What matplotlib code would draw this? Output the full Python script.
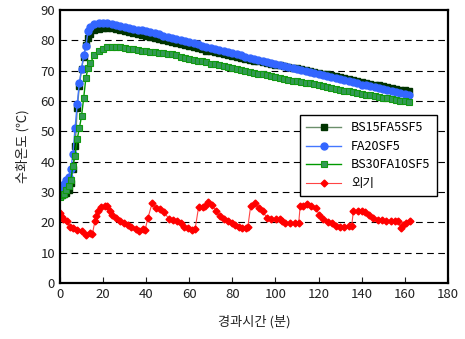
import matplotlib
matplotlib.use('Agg')
import matplotlib.pyplot as plt

plt.rcParams['font.family'] = ['Noto Sans CJK KR', 'DejaVu Sans']

# elapsed time for the three concrete mixes
hours = [0, 1, 2, 3, 4, 5, 6, 7, 8, 9, 10, 11, 12, 13, 14,
         16, 18, 20, 22, 24, 26, 28, 30, 32, 34, 36, 38, 40, 42, 44, 46, 48, 50,
         52, 54, 56, 58, 60, 62, 64, 66, 68, 70, 72, 74, 76, 78, 80, 82, 84, 86,
         88, 90, 92, 94, 96, 98, 100, 102, 104, 106, 108, 110, 112, 114, 116, 118,
         120, 122, 124, 126, 128, 130, 132, 134, 136, 138, 140, 142, 144, 146,
         148, 150, 152, 154, 156, 158, 160, 162]

bs15 = [28.8, 29.0, 29.2, 29.6, 30.5, 33.0, 37.5, 45.0, 57.5, 65.0, 70.5, 74.5, 78.5, 80.8, 82.2,
        83.4, 83.8, 84.0, 84.0, 83.9, 83.6, 83.3, 83.0, 82.7, 82.4, 82.1, 81.8, 81.5, 81.1, 80.7,
        80.3, 79.9, 79.6, 79.3, 79.0, 78.7, 78.3, 78.0, 77.6, 77.3, 77.0, 76.6, 76.3, 76.0, 75.7,
        75.3, 75.0, 74.7, 74.4, 74.1, 73.8, 73.5, 73.2, 73.0, 72.7, 72.4, 72.2, 71.9, 71.7, 71.4,
        71.2, 70.9, 70.7, 70.4, 70.1, 69.9, 69.6, 69.3, 69.0, 68.7, 68.4, 68.1, 67.8, 67.5, 67.2,
        66.9, 66.5, 66.2, 65.9, 65.7, 65.4, 65.2, 64.9, 64.6, 64.3, 64.0, 63.7, 63.5, 63.3]

fa20 = [30.8, 31.0, 32.5, 33.8, 35.0, 37.5, 42.5, 51.0, 59.0, 66.0, 70.5, 75.0, 78.0, 83.0, 84.5,
        85.2, 85.5, 85.6, 85.5, 85.3, 85.0, 84.7, 84.4, 84.1, 83.8, 83.5, 83.2, 82.9, 82.6, 82.3,
        81.9, 81.5, 81.2, 80.8, 80.4, 80.0, 79.7, 79.3, 79.0, 78.6, 78.2, 77.8, 77.5, 77.1, 76.7,
        76.4, 76.0, 75.7, 75.3, 75.0, 74.6, 74.2, 73.9, 73.5, 73.2, 72.8, 72.5, 72.1, 71.8, 71.4,
        71.1, 70.7, 70.4, 70.1, 69.8, 69.5, 69.1, 68.8, 68.4, 68.1, 67.8, 67.4, 67.1, 66.8, 66.4,
        66.1, 65.8, 65.4, 65.1, 64.8, 64.5, 64.2, 63.9, 63.6, 63.3, 63.0, 62.6, 62.3, 62.0]

bs30 = [28.3, 29.0, 29.5, 30.5, 32.0, 34.0, 38.5, 42.0, 47.5, 51.0, 55.0, 61.0, 67.5, 70.8, 72.5,
        75.0, 76.4, 77.2, 77.7, 77.9, 77.9, 77.7, 77.4, 77.2, 77.0, 76.8, 76.6, 76.4, 76.2, 76.0,
        75.9, 75.8, 75.6, 75.3, 75.0, 74.6, 74.2, 73.9, 73.5, 73.2, 73.0, 72.7, 72.3, 72.0, 71.7,
        71.4, 71.1, 70.8, 70.5, 70.2, 69.9, 69.6, 69.3, 69.0, 68.8, 68.5, 68.2, 67.9, 67.6, 67.3,
        67.0, 66.7, 66.4, 66.2, 66.0, 65.8, 65.5, 65.2, 64.9, 64.6, 64.3, 64.0, 63.7, 63.4, 63.1,
        62.8, 62.6, 62.3, 62.0, 61.8, 61.6, 61.3, 61.1, 60.9, 60.6, 60.4, 60.1, 59.9, 59.6]

# outside air temperature
air_hours = [0, 0.8, 1.5, 3.1, 4.6, 6.1, 7.7, 10, 12, 13.8, 15, 16.2, 16.9, 17.7, 19.2, 20.8,
             21.8, 23.1, 24.3, 26.2, 28, 29.5, 31.5, 33.1, 35.1, 36.9, 38.5, 39.5, 40.8, 42.8,
             44.6, 46.4, 48.5, 50.5, 52.3, 54.1, 56, 57.6, 59.5, 61.5, 62.7, 64.3, 66.2, 67.4,
             68.9, 70.7, 72.5, 74.1, 76, 78, 79.8, 81.3, 83.1, 84.6, 86.2, 87.2, 88.5, 90.5,
             92.3, 94.2, 96.1, 98.1, 100.3, 102.3, 103, 104.6, 106.9, 109.2, 110.8, 111.5,
             112.6, 114.6, 116.6, 118.8, 120.3, 122.3, 124.3, 126.1, 128, 130.1, 132, 134.2,
             135.4, 136.2, 138.2, 140, 141.8, 143.4, 145.4, 147.7, 149.5, 151.5, 153.5, 155.4,
             156.9, 158.1, 159.2, 160.8, 162.3]
air = [23.1, 21.8, 21.1, 20.3, 18.6, 18.1, 17.5, 17.0, 15.9, 16.4, 16.0, 20.3, 22.0, 23.9, 25.0,
       25.5, 25.5, 23.6, 22.5, 21.4, 20.5, 19.8, 19.2, 18.6, 17.9, 17.3, 17.7, 17.5, 21.4, 26.4,
       24.7, 24.5, 23.3, 21.1, 20.9, 20.3, 19.8, 18.6, 18.1, 17.5, 17.7, 24.9, 25.2, 25.4, 26.6,
       25.8, 23.6, 22.0, 21.2, 20.6, 19.8, 19.0, 18.6, 18.1, 18.1, 18.6, 25.3, 26.4, 24.7, 23.6,
       21.4, 21.1, 21.1, 21.1, 20.6, 19.8, 19.8, 19.8, 19.8, 25.5, 25.3, 26.1, 25.5, 24.7, 22.5,
       21.1, 20.1, 19.8, 18.9, 18.6, 18.6, 18.9, 18.9, 23.9, 23.9, 23.6, 23.4, 22.5, 21.4, 20.9,
       20.9, 20.6, 20.3, 20.3, 20.5, 18.1, 19.2, 19.8, 20.5]

fig = plt.figure(figsize=(4.65, 3.39), dpi=100)
ax = fig.add_axes([0.129, 0.165, 0.834, 0.806])

ax.plot(hours, bs15, color='#6b8f6b', lw=1, marker='s', ms=4.5,
        mfc='#003300', mec='#003300', label='BS15FA5SF5')
ax.plot(hours, fa20, color='#4477ff', lw=1, marker='o', ms=5,
        mfc='#3366ff', mec='#3366ff', label='FA20SF5')
ax.plot(hours, bs30, color='#009900', lw=1, marker='s', ms=5,
        mfc='#339955', mec='#119911', mew=0.8, label='BS30FA10SF5')
ax.plot(air_hours, air, color='#ff4444', lw=0.8, marker='D', ms=3.5,
        mfc='red', mec='red', label='외기')

ax.set_xlim(0, 180)
ax.set_ylim(0, 90)
ax.set_xticks(range(0, 181, 20))
ax.set_yticks(range(0, 91, 10))
ax.tick_params(direction='in', labelsize=9.5, colors='#222222', length=4)
ax.tick_params(axis='y', length=0)
for g in range(10, 90, 10):
    ax.axhline(g, color='black', lw=0.8, dashes=(6, 4), zorder=0)
for s in ax.spines.values():
    s.set_linewidth(1.6)

ax.set_xlabel('경과시간 (분)', fontsize=9.5, labelpad=10, color='#222222')
ax.set_ylabel('수화온도 (℃)', fontsize=9.5, labelpad=8, color='#222222')

leg = ax.legend(loc='upper left', bbox_to_anchor=(300 / 465, 1 - 115 / 339),
                bbox_transform=fig.transFigure, fontsize=9, frameon=True,
                fancybox=False, edgecolor='black', framealpha=1, borderaxespad=0,
                handlelength=2.8, labelspacing=0.45, borderpad=0.5)
leg.get_frame().set_linewidth(1.0)

fig.savefig('out.png', dpi=100)
